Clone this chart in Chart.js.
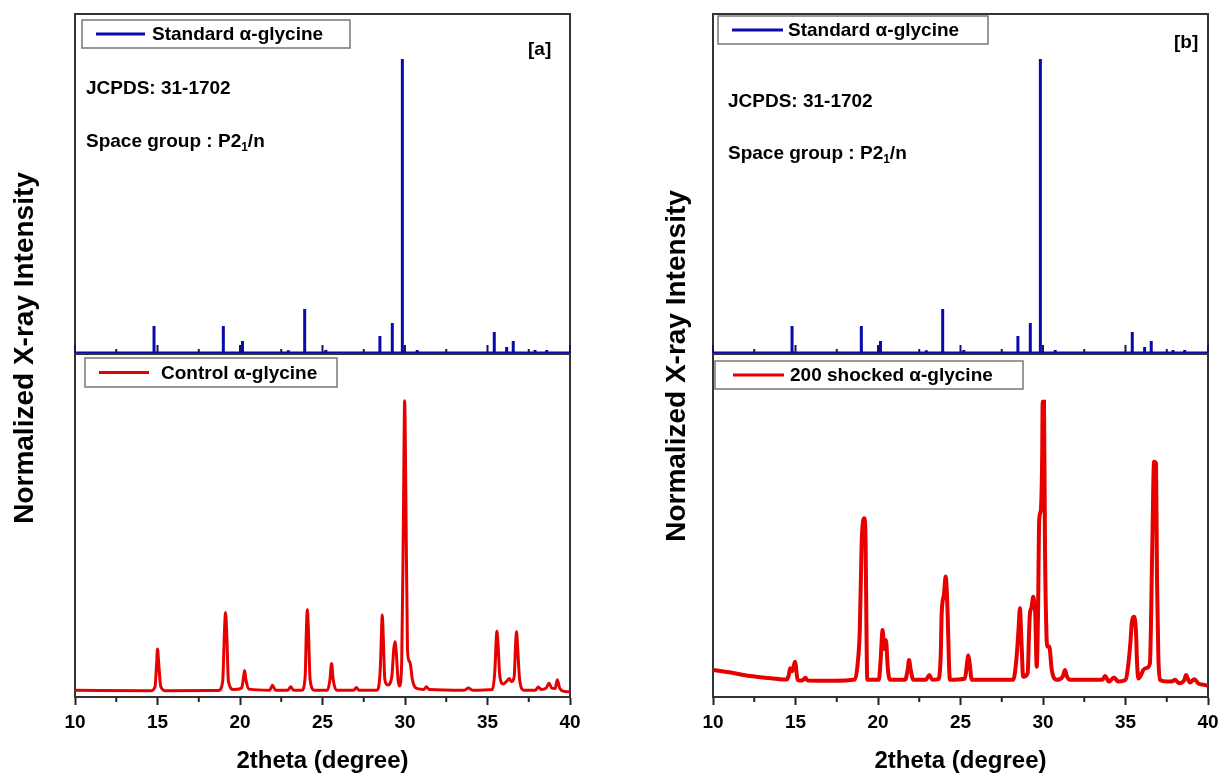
<!DOCTYPE html>
<html>
<head>
<meta charset="utf-8">
<script src="https://cdn.jsdelivr.net/npm/chart.js@4.4.1/dist/chart.umd.min.js"></script>
<style>
  html, body { margin: 0; padding: 0; background: #fff; }
  body { width: 1220px; height: 776px; position: relative; overflow: hidden; font-family: "Liberation Sans", Arial, sans-serif; }
  canvas { position: absolute; }
</style>
</head>
<body>
<canvas id="topA" width="499" height="343" style="left:73px;top:12px"></canvas>
<canvas id="topB" width="499" height="343" style="left:711px;top:12px"></canvas>
<canvas id="botA" width="620" height="776" style="left:0px;top:0px"></canvas>
<canvas id="botB" width="600" height="776" style="left:640px;top:0px"></canvas>
<script>
// ---------------- DATA ----------------
// Standard alpha-glycine reference sticks (JCPDS 31-1702), 2theta and relative intensity
const stdPeakPos = [14.79, 18.99, 20.15, 22.93, 23.92, 25.2, 28.48, 29.23, 29.84, 30.74, 35.41, 36.16, 36.56, 37.88, 38.59];
const stdPeakInt = [9.2, 9.2, 4.1, 0.9, 15.0, 1.0, 5.8, 10.2, 100, 1.0, 7.1, 2.0, 4.1, 1.0, 1.0];

// Control alpha-glycine pattern (panel a)
const ctrlTheta = [10.0, 14.6, 14.85, 14.95, 15.0, 15.07, 15.2, 15.5, 18.7, 18.95, 19.05, 19.12, 19.2, 19.3, 19.6,
  20.1, 20.22, 20.28, 20.36, 20.55, 21.8, 21.97, 22.15, 22.9, 23.07, 23.25, 23.75, 23.95, 24.02, 24.08, 24.15, 24.25, 24.5,
  25.3, 25.45, 25.55, 25.65, 25.85, 26.9, 27.05, 27.2, 28.3, 28.5, 28.57, 28.62, 28.68, 28.78, 28.95, 29.2, 29.32, 29.39,
  29.47, 29.58, 29.66, 29.8, 29.9, 29.98, 30.05, 30.15, 30.25, 30.33, 30.45, 30.7, 31.15, 31.3, 31.45, 33.6, 33.84, 34.1,
  35.3, 35.45, 35.52, 35.57, 35.63, 35.75, 35.95, 36.2, 36.32, 36.45, 36.62, 36.7, 36.76, 36.82, 36.95, 37.2, 37.9, 38.08,
  38.25, 38.55, 38.73, 38.9, 39.1, 39.23, 39.38, 39.7, 40.0];
const ctrlInt = [2.0, 1.8, 3.0, 10, 14.0, 10, 3, 1.8, 1.9, 4.5, 18, 24.6, 18, 4.5, 2.2,
  2.6, 6, 7.7, 5, 2.3, 2.0, 3.4, 2.0, 2.0, 3.0, 2.0, 2.0, 6, 19, 25.5, 19, 5, 2.0,
  2.0, 5, 9.8, 5, 2.0, 2.0, 2.8, 2.0, 2.0, 8, 18, 23.9, 18, 5, 3.5, 6, 14, 16.1,
  13, 5, 3.2, 10, 50, 86.4, 60, 14, 10.5, 9.5, 5, 2.5, 2.2, 3.0, 2.2, 2.0, 2.6, 2.0,
  2.2, 8, 16, 19.2, 16, 6, 3.8, 4.8, 5.4, 4.5, 6, 15, 19, 15, 5, 2.0, 2.0, 2.9,
  2.2, 2.6, 4, 2.6, 2.5, 5.0, 2.5, 1.6, 1.5];

// 200 shocked alpha-glycine pattern (panel b)
const shockTheta = [10.0, 11.0, 12.24, 13.5, 14.47, 14.6, 14.67, 14.8, 14.97, 15.13, 15.4, 15.6, 15.75, 17.3, 18.6,
  18.77, 18.9, 19.01, 19.17, 19.25, 19.3, 19.35, 20.05, 20.15, 20.28, 20.38, 20.48, 20.6, 20.73, 21.64, 21.8, 21.88,
  21.98, 22.14, 22.9, 23.11, 23.3, 23.66, 23.8, 23.86, 24.0, 24.1, 24.22, 24.3, 24.36, 25.27, 25.4, 25.47, 25.55, 25.68,
  28.2, 28.4, 28.52, 28.6, 28.68, 28.8, 29.07, 29.15, 29.21, 29.3, 29.41, 29.5, 29.53, 29.62, 29.7, 29.77, 29.87, 29.95,
  29.98, 30.06, 30.12, 30.2, 30.26, 30.38, 30.53, 30.83, 31.2, 31.33, 31.45, 31.64, 33.6, 33.76, 34.0, 34.3, 34.56, 35.0,
  35.13, 35.3, 35.38, 35.52, 35.64, 35.7, 35.78, 35.95, 36.08, 36.3, 36.48, 36.62, 36.73, 36.85, 36.91, 36.99, 37.09,
  37.5, 37.85, 38.0, 38.24, 38.55, 38.67, 38.9, 39.17, 39.42, 39.7, 40.0];
const shockInt = [7.9, 7.2, 6.1, 5.5, 5.1, 6.5, 8.4, 7.5, 10.3, 5.0, 4.8, 5.6, 4.8, 4.75, 5.1,
  9.8, 20, 44.8, 52.1, 44.8, 20, 5.0, 5.0, 10, 19.5, 14, 16.6, 8, 5.0, 5.0, 8, 10.8,
  8, 5.0, 5.0, 6.4, 5.0, 5.2, 12, 24.4, 30, 35.1, 24.4, 10, 5.0, 5.4, 10, 12.2, 10, 5.0,
  5.0, 11.7, 20, 25.9, 18, 5.9, 6.9, 18, 24.4, 26, 29.2, 26, 24.4, 8.8, 25, 51.6, 54.5, 70,
  86.1, 86.1, 43.8, 20, 14.7, 14.7, 7.9, 5.0, 6, 7.9, 6, 5.0, 5.0, 6.1, 4.5, 5.7, 4.5, 5.0,
  7.9, 16, 21.5, 23.4, 18.5, 10, 5.4, 6.5, 7.9, 8.5, 9.8, 42.9, 68.6, 68.1, 34.1, 12, 5.0,
  4.5, 4.6, 5.0, 4.0, 4.8, 6.4, 4.2, 5.2, 3.9, 3.6, 3.3];

// Axis ticks
const xMajorTicks = [10, 15, 20, 25, 30, 35, 40];
const xMinorTicks = [12.5, 17.5, 22.5, 27.5, 32.5, 37.5];

// Labels
const stdLabel = 'Standard \u03b1-glycine';
const ctrlLabel = 'Control \u03b1-glycine';
const shockLabel = '200 shocked \u03b1-glycine';
const xTitle = '2theta (degree)';
const yTitle = 'Normalized X-ray Intensity';

// ---------------- STYLE / HELPERS ----------------
const FONT = '"Liberation Sans", Arial, sans-serif';
const BLUE = '#0a0aaa';
const RED = '#e60000';

function stickPoints(pos, inten) {
  const pts = [{x: 10, y: 0}];
  pos.forEach((p, i) => { pts.push({x: p, y: 0}, {x: p, y: inten[i]}, {x: p, y: 0}); });
  pts.push({x: 40, y: 0});
  return pts;
}
function curvePoints(xs, ys) { return xs.map((x, i) => ({x, y: ys[i]})); }

const decor = {
  id: 'decor',
  beforeDatasetsDraw(chart, args, o) {
    const {ctx, chartArea: a} = chart;
    ctx.save();
    ctx.strokeStyle = '#333';
    ctx.lineWidth = 2;
    ctx.strokeRect(a.left, a.top, a.right - a.left, a.bottom - a.top);
    ctx.restore();
  },
  afterDatasetsDraw(chart, args, o) {
    const {ctx, chartArea: a} = chart;
    const xs = chart.scales.x;
    ctx.save();
    ctx.lineCap = 'butt';
    if (o.upTicks) {
      ctx.strokeStyle = '#14145a';
      ctx.lineWidth = 2;
      xMajorTicks.forEach(v => { const p = xs.getPixelForValue(v); ctx.beginPath(); ctx.moveTo(p, a.bottom); ctx.lineTo(p, a.bottom - 8); ctx.stroke(); });
      xMinorTicks.forEach(v => { const p = xs.getPixelForValue(v); ctx.beginPath(); ctx.moveTo(p, a.bottom); ctx.lineTo(p, a.bottom - 4); ctx.stroke(); });
    }
    if (o.downMinor) {
      ctx.strokeStyle = '#222';
      ctx.lineWidth = 2;
      xMinorTicks.forEach(v => { const p = xs.getPixelForValue(v); ctx.beginPath(); ctx.moveTo(p, a.bottom); ctx.lineTo(p, a.bottom + 5); ctx.stroke(); });
    }
    if (o.legend) {
      const L = o.legend;
      const ds = chart.data.datasets[0];
      const bx = a.left + L.x, by = a.top + L.y;
      ctx.fillStyle = '#fff';
      ctx.fillRect(bx, by, L.w, L.h);
      ctx.strokeStyle = '#777';
      ctx.lineWidth = 1.5;
      ctx.strokeRect(bx, by, L.w, L.h);
      ctx.strokeStyle = ds.borderColor;
      ctx.lineWidth = 3;
      ctx.beginPath();
      ctx.moveTo(bx + L.l0, by + L.h / 2);
      ctx.lineTo(bx + L.l1, by + L.h / 2);
      ctx.stroke();
      ctx.fillStyle = '#000';
      ctx.font = 'bold 19px ' + FONT;
      ctx.textBaseline = 'middle';
      ctx.textAlign = 'left';
      ctx.fillText(ds.label, bx + L.tx, by + L.h / 2 + 1);
    }
    (o.texts || []).forEach(t => {
      ctx.fillStyle = '#000';
      ctx.textBaseline = 'middle';
      ctx.textAlign = 'left';
      let x = a.left + t.x;
      const y = a.top + t.y;
      t.parts.forEach(part => {
        const sub = part.sub;
        ctx.font = (sub ? 'bold 12px ' : 'bold 19px ') + FONT;
        ctx.fillText(part.s, x, y + (sub ? 6 : 0));
        x += ctx.measureText(part.s).width;
      });
    });
    if (o.yTitle) {
      ctx.translate(o.yTitle.x, o.yTitle.y);
      ctx.rotate(-Math.PI / 2);
      ctx.fillStyle = '#000';
      ctx.font = 'bold 28px ' + FONT;
      ctx.textAlign = 'center';
      ctx.textBaseline = 'middle';
      ctx.fillText(yTitle, 0, 0);
    }
    ctx.restore();
  }
};

function topChart(id, legend, texts) {
  return new Chart(document.getElementById(id), {
    type: 'line',
    data: { datasets: [{
      label: stdLabel,
      data: stickPoints(stdPeakPos, stdPeakInt),
      borderColor: BLUE, backgroundColor: BLUE, borderWidth: 3,
      pointRadius: 0, tension: 0, clip: false
    }]},
    options: {
      responsive: false, animation: false,
      layout: { padding: 2 },
      scales: {
        x: { type: 'linear', min: 10, max: 40, display: false },
        y: { type: 'linear', min: 0, max: 115.3, display: false }
      },
      plugins: { legend: { display: false }, tooltip: { enabled: false },
        decor: { upTicks: true, legend, texts } }
    },
    plugins: [decor]
  });
}

function bottomChart(id, label, xs, ys, width, padLeft, padRight, legend, yTitlePos) {
  return new Chart(document.getElementById(id), {
    type: 'line',
    data: { datasets: [{
      label,
      data: curvePoints(xs, ys),
      borderColor: RED, backgroundColor: RED, borderWidth: width,
      pointRadius: 0, cubicInterpolationMode: 'monotone', clip: false
    }]},
    options: {
      responsive: false, animation: false,
      layout: { padding: { left: padLeft, right: padRight, top: 354, bottom: 0 } },
      scales: {
        x: {
          type: 'linear', min: 10, max: 40,
          afterBuildTicks: s => { s.ticks = xMajorTicks.map(v => ({value: v})); },
          afterFit: s => { s.height = 79; },
          grid: { display: true, drawOnChartArea: false, drawTicks: true, tickLength: 8, tickWidth: 2, tickColor: '#222' },
          border: { display: true, color: '#333', width: 2 },
          ticks: { autoSkip: false, maxRotation: 0, padding: 6, color: '#000', font: { family: FONT, size: 19, weight: 'bold' } },
          title: { display: true, text: xTitle, color: '#000', padding: { top: 0, bottom: 0 }, font: { family: FONT, size: 24, weight: 'bold' } }
        },
        y: { type: 'linear', min: 0, max: 100, display: false }
      },
      plugins: { legend: { display: false }, tooltip: { enabled: false },
        decor: { downMinor: true, legend, yTitle: yTitlePos } }
    },
    plugins: [decor]
  });
}

topChart('topA',
  { x: 7, y: 6, w: 268, h: 28, l0: 14, l1: 63, tx: 70 },
  [ { x: 11, y: 75, parts: [{s: 'JCPDS: 31-1702'}] },
    { x: 11, y: 128, parts: [{s: 'Space group : P2'}, {s: '1', sub: true}, {s: '/n'}] },
    { x: 453, y: 36, parts: [{s: '[a]'}] } ]);
topChart('topB',
  { x: 5, y: 2, w: 270, h: 28, l0: 14, l1: 65, tx: 70 },
  [ { x: 15, y: 88, parts: [{s: 'JCPDS: 31-1702'}] },
    { x: 15, y: 140, parts: [{s: 'Space group : P2'}, {s: '1', sub: true}, {s: '/n'}] },
    { x: 461, y: 29, parts: [{s: '[b]'}] } ]);
bottomChart('botA', ctrlLabel, ctrlTheta, ctrlInt, 3, 75, 50,
  { x: 10, y: 4, w: 252, h: 29, l0: 14, l1: 64, tx: 76 }, { x: 25, y: 348 });
bottomChart('botB', shockLabel, shockTheta, shockInt, 4, 73, 32,
  { x: 2, y: 7, w: 308, h: 28, l0: 18, l1: 69, tx: 75 }, { x: 37, y: 366 });
</script>
</body>
</html>
